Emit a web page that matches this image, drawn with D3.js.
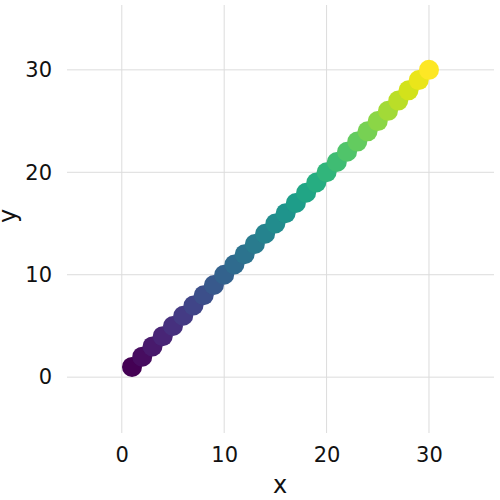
<!DOCTYPE html>
<html><head><meta charset="utf-8">
<script src="https://cdn.jsdelivr.net/npm/d3@7"></script>
<style>body{margin:0;background:#fff}</style></head>
<body><svg id="c" width="500" height="500"></svg>
<script>
const xs = [1,2,3,4,5,6,7,8,9,10,11,12,13,14,15,16,17,18,19,20,21,22,23,24,25,26,27,28,29,30];
const ys = [1,2,3,4,5,6,7,8,9,10,11,12,13,14,15,16,17,18,19,20,21,22,23,24,25,26,27,28,29,30];
const xTicks = [0,10,20,30];
const yTicks = [0,10,20,30];

const svg = d3.select("#c");
const L = 67, R = 494, T = 5, B = 433;
const x = d3.scaleLinear().domain([-5.35, 36.35]).range([L, R]);
const y = d3.scaleLinear().domain([-5.45, 36.33]).range([B, T]);
const color = d3.scaleSequential(d3.interpolateViridis).domain([1, 30]);
const font = "DejaVu Sans, sans-serif";

const g = svg.append("g");
g.selectAll(".vg").data(xTicks).join("line")
  .attr("x1", d => x(d)).attr("x2", d => x(d)).attr("y1", T).attr("y2", B)
  .attr("stroke", "#dcdcdc").attr("stroke-width", 1);
g.selectAll(".hg").data(yTicks).join("line")
  .attr("x1", L).attr("x2", R).attr("y1", d => y(d)).attr("y2", d => y(d))
  .attr("stroke", "#dcdcdc").attr("stroke-width", 1);

const xa = svg.append("g").attr("transform", `translate(0,${B})`)
  .call(d3.axisBottom(x).tickValues(xTicks).tickSize(0).tickPadding(14));
const ya = svg.append("g").attr("transform", `translate(${L},0)`)
  .call(d3.axisLeft(y).tickValues(yTicks).tickSize(0).tickPadding(15));
[xa, ya].forEach(a => {
  a.select(".domain").remove();
  a.selectAll("text").attr("font-family", font).attr("font-size", 21).attr("fill", "#111");
});

svg.append("g").selectAll("circle").data(xs.map((d, i) => [d, ys[i]])).join("circle")
  .attr("cx", d => x(d[0])).attr("cy", d => y(d[1])).attr("r", 10)
  .attr("fill", d => color(d[0]));

svg.append("text").attr("x", 280).attr("y", 493).attr("text-anchor", "middle")
  .attr("font-family", font).attr("font-size", 24).attr("fill", "#111").text("x");
svg.append("text").attr("transform", "translate(16,216) rotate(-90)").attr("text-anchor", "middle")
  .attr("font-family", font).attr("font-size", 24).attr("fill", "#111").text("y");
</script></body></html>
